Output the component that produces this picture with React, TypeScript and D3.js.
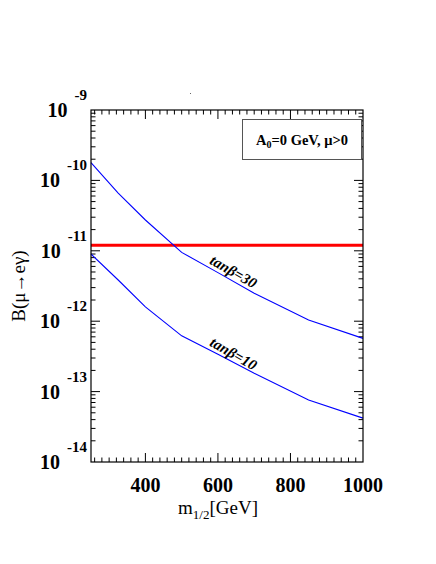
import React, { useEffect, useRef } from "react";
import * as d3 from "d3";

// m_1/2 [GeV]
const massPoints = [250, 325, 400, 500, 600, 700, 850, 1000];
// B(mu -> e gamma)
const tanb30 = [1.79e-10, 6.6e-11, 2.74e-11, 9.5e-12, 4.9e-12, 2.5e-12, 1.04e-12, 5.7e-13];
const tanb10 = [9.0e-12, 3.85e-12, 1.6e-12, 6.2e-13, 3.4e-13, 1.82e-13, 7.6e-14, 4.2e-14];
const megBound = 1.2e-11;
const xTicks = [400, 600, 800, 1000];
const yExponents = [-9, -10, -11, -12, -13, -14];

const App = () => {
  const ref = useRef<SVGSVGElement | null>(null);

  useEffect(() => {
    draw();
  }, []);

  const draw = () => {
    const W = 436, H = 564;
    const left = 91, right = 363, top = 110, bottom = 462;
    const serif = "'Liberation Serif', 'Times New Roman', serif";

    const svg = d3.select(ref.current);
    svg.selectAll("*").remove();
    svg.attr("width", W).attr("height", H);
    svg.append("rect").attr("width", W).attr("height", H).attr("fill", "white");

    const x = d3.scaleLinear().domain([250, 1000]).range([left, right]);
    const y = d3.scaleLog().domain([1e-14, 1e-9]).range([bottom, top]);

    const g = svg.append("g");

    // minor + major ticks, both sides (ROOT style)
    const xMinor = d3.range(260, 1000, 20);
    xMinor.forEach(v => {
      const major = v % 200 === 0;
      const len = major ? 9 : 4.5;
      g.append("line").attr("x1", x(v)).attr("x2", x(v)).attr("y1", bottom).attr("y2", bottom - len)
        .attr("stroke", "black").attr("stroke-width", 1);
      g.append("line").attr("x1", x(v)).attr("x2", x(v)).attr("y1", top).attr("y2", top + len)
        .attr("stroke", "black").attr("stroke-width", 1);
    });

    for (let e = -14; e < -9; e++) {
      for (let m = 1; m < 10; m++) {
        const v = m * Math.pow(10, e);
        if (m === 1 && e === -14) continue;
        const len = m === 1 ? 9 : 4.5;
        const yy = y(v);
        g.append("line").attr("x1", left).attr("x2", left + len).attr("y1", yy).attr("y2", yy)
          .attr("stroke", "black").attr("stroke-width", 1);
        g.append("line").attr("x1", right).attr("x2", right - len).attr("y1", yy).attr("y2", yy)
          .attr("stroke", "black").attr("stroke-width", 1);
      }
    }

    // legend box
    g.append("rect").attr("x", 242.5).attr("y", 119.5).attr("width", 119).attr("height", 40)
      .attr("fill", "white").attr("stroke", "#555").attr("stroke-width", 1);
    const leg = g.append("text").attr("x", 302).attr("y", 145).attr("text-anchor", "middle")
      .attr("font-family", serif).attr("font-weight", "bold").attr("font-size", 14.5);
    leg.append("tspan").text("A");
    leg.append("tspan").attr("font-size", 10).attr("dy", 3).text("0");
    leg.append("tspan").attr("dy", -3).text("=0 GeV, \u03bc>0");

    // MEG bound
    g.append("line").attr("x1", left).attr("x2", right).attr("y1", y(megBound)).attr("y2", y(megBound))
      .attr("stroke", "#ff0000").attr("stroke-width", 3);

    const line = d3.line<number>()
      .x((d, i) => x(massPoints[i]))
      .y(d => y(d));

    [tanb30, tanb10].forEach(s => {
      g.append("path").attr("d", line(s)).attr("fill", "none")
        .attr("stroke", "#0000ff").attr("stroke-width", 1.1);
    });

    // curve labels
    const curveLabel = (cx: number, cy: number, val: string) => {
      g.append("text").attr("transform", `translate(${cx},${cy}) rotate(30)`)
        .attr("text-anchor", "middle").attr("font-family", serif)
        .attr("font-weight", "bold").attr("font-style", "italic").attr("font-size", 15)
        .text("tan\u03b2=" + val);
    };
    curveLabel(231, 276, "30");
    curveLabel(231, 358, "10");

    // frame
    g.append("rect").attr("x", left).attr("y", top).attr("width", right - left).attr("height", bottom - top)
      .attr("fill", "none").attr("stroke", "black").attr("stroke-width", 1.2);

    // x tick labels
    xTicks.forEach(v => {
      g.append("text").attr("x", x(v)).attr("y", 492).attr("text-anchor", "middle")
        .attr("font-family", serif).attr("font-weight", "bold").attr("font-size", 20)
        .text(v);
    });

    // y tick labels: 10 with exponent, right-aligned as one label
    yExponents.forEach(e => {
      const yy = y(Math.pow(10, e));
      const t = g.append("text").attr("x", 87).attr("y", yy + 7).attr("text-anchor", "end")
        .attr("font-family", serif).attr("font-weight", "bold").attr("font-size", 20);
      t.append("tspan").text("10");
      t.append("tspan").attr("dx", 7).attr("dy", -17).attr("font-size", 15).text(String(e));
    });

    // axis titles
    const xt = g.append("text").attr("x", 218).attr("y", 514).attr("text-anchor", "middle")
      .attr("font-family", serif).attr("font-size", 19);
    xt.append("tspan").text("m");
    xt.append("tspan").attr("font-size", 13).attr("dy", 5).text("1/2");
    xt.append("tspan").attr("dy", -5).text("[GeV]");

    g.append("text").attr("transform", "translate(25,286) rotate(-90)").attr("text-anchor", "middle")
      .attr("font-family", serif).attr("font-size", 19)
      .text("B(\u03bc\u2192e\u03b3)");

    // stray dot near top
    g.append("rect").attr("x", 190).attr("y", 93).attr("width", 1).attr("height", 1).attr("fill", "#666");
  };

  return (
    <svg ref={ref} style={{ position: "absolute", left: 0, top: 0 }} />
  );
};

export default App;
